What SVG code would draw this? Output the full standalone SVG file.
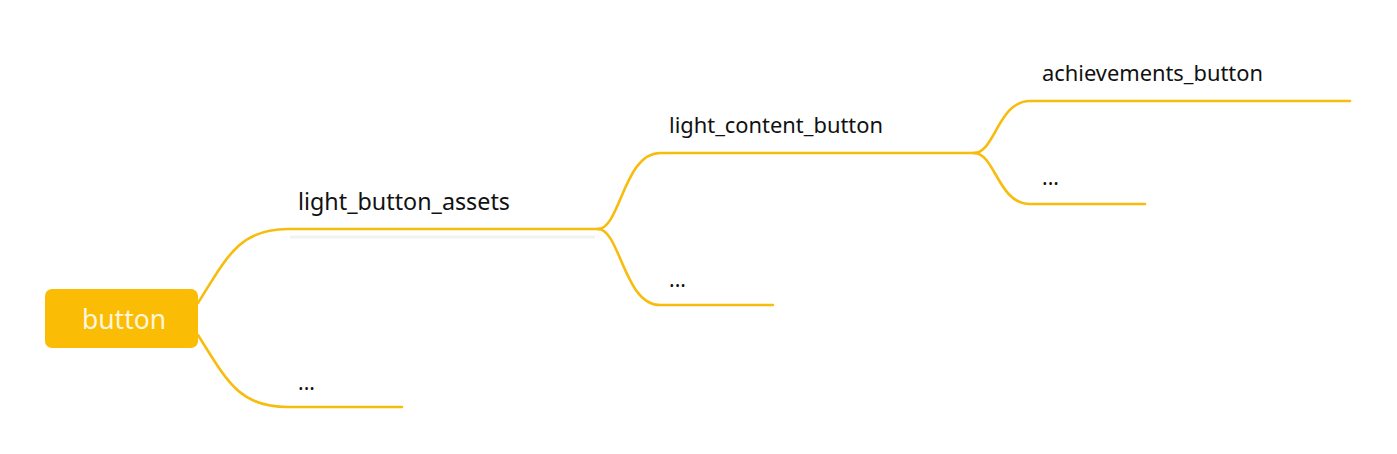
<svg xmlns="http://www.w3.org/2000/svg" width="1397" height="454" viewBox="0 0 1397 454">
<style>
.c{fill:none;stroke:#F7BC0C;stroke-width:2.6;stroke-linecap:round}
.t{font-family:"Noto Sans","Liberation Sans",sans-serif;fill:#111}
</style>
<rect width="1397" height="454" fill="#fff"/>
<g id="connectors">
<line x1="290" y1="237" x2="595" y2="237" stroke="#f2f2f2" stroke-width="3"/>
<path class="c" d="M198,303 C228,255 240,229 288,229 L600,229"/>
<path class="c" d="M198,335 C228,383 240,407 288,407 L402,407"/>
<path class="c" d="M598,229 C620,229 624,153 660,153 L976,153"/>
<path class="c" d="M598,229 C620,229 624,305 660,305 L773,305"/>
<path class="c" d="M974,153 C995,153 998,101 1030,101 L1350,101"/>
<path class="c" d="M974,153 C995,153 998,204 1030,204 L1145,204"/>
</g>
<g id="root">
<rect x="45" y="289" width="153" height="59" rx="7" fill="#FBBC05"/>
<text x="124" y="329" text-anchor="middle" class="t" style="fill:#FFF6DC;font-size:26.5px">button</text>
</g>
<g id="n1"><text x="298" y="210" class="t" font-size="23" textLength="212" lengthAdjust="spacingAndGlyphs">light_button_assets</text></g>
<g id="n2"><text x="298" y="390" class="t" font-size="21">...</text></g>
<g id="n3"><text x="669" y="133" class="t" font-size="21.8" textLength="214" lengthAdjust="spacingAndGlyphs">light_content_button</text></g>
<g id="n4"><text x="669" y="287" class="t" font-size="21">...</text></g>
<g id="n5"><text x="1042" y="81" class="t" font-size="21.8" textLength="221" lengthAdjust="spacingAndGlyphs">achievements_button</text></g>
<g id="n6"><text x="1042" y="185" class="t" font-size="21">...</text></g>
</svg>
